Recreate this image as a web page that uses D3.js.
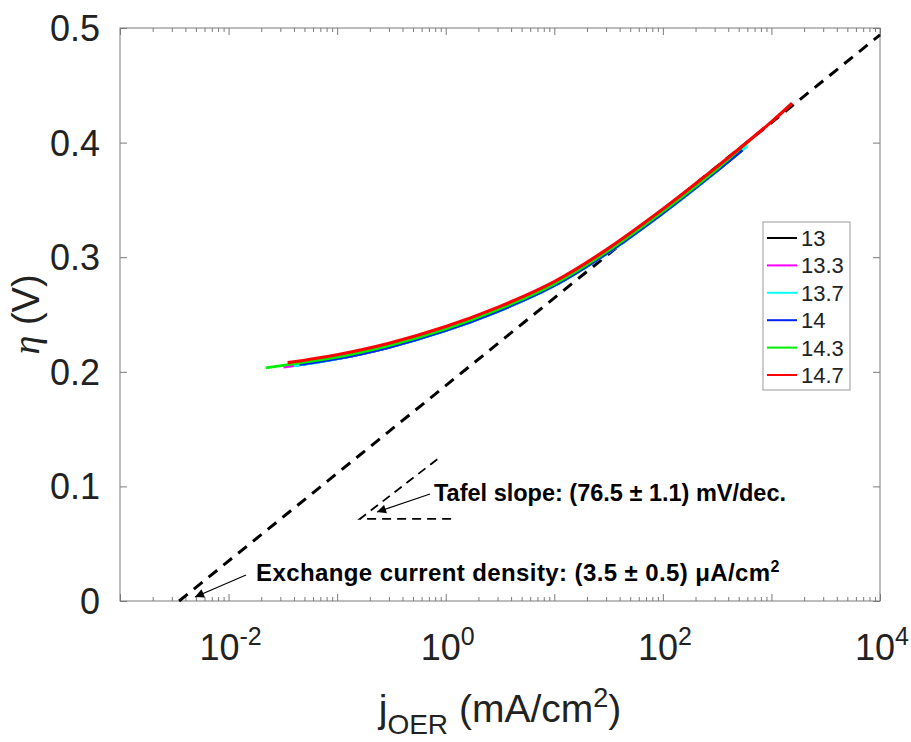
<!DOCTYPE html>
<html>
<head>
<meta charset="utf-8">
<script src="https://cdn.jsdelivr.net/npm/d3@7"></script>
<style>
  body { margin: 0; background: #fff; }
  text { font-family: "Liberation Sans", Arial, Helvetica, sans-serif; }
</style>
</head>
<body>
<div id="chart"></div>
<script>
// series names (pH) and colours
var seriesNames = ["13", "13.3", "13.7", "14", "14.3", "14.7"];
var seriesColors = ["#000000", "#ff00ff", "#00ffff", "#0022ee", "#00ee00", "#ff0000"];

// current density (mA/cm2) and overpotential (V)
var j13 = [0.04, 0.1, 0.3, 1, 3, 10, 30, 100, 300, 450];
var eta13 = [0.2054, 0.2114, 0.2214, 0.236, 0.2527, 0.2752, 0.3029, 0.3385, 0.3738, 0.3875];
var j133 = [0.032, 0.1, 0.3, 1, 3, 10, 30, 100, 300, 500];
var eta133 = [0.204, 0.2114, 0.2214, 0.236, 0.2527, 0.2752, 0.3029, 0.3385, 0.3738, 0.391];
var j137 = [0.04, 0.1, 0.3, 1, 3, 10, 30, 100, 300, 600];
var eta137 = [0.2052, 0.2112, 0.2212, 0.2358, 0.2525, 0.275, 0.3027, 0.3383, 0.3736, 0.397];
var j14 = [0.045, 0.1, 0.3, 1, 3, 10, 30, 100, 300, 540];
var eta14 = [0.2062, 0.2114, 0.2214, 0.236, 0.2527, 0.2752, 0.3029, 0.3385, 0.3738, 0.3935];
var j143 = [0.022, 0.05, 0.1, 0.3, 1, 3, 10, 30, 100, 300, 740];
var eta143 = [0.2035, 0.2084, 0.2129, 0.2229, 0.2375, 0.2542, 0.2767, 0.3044, 0.340, 0.3753, 0.408];
var j147 = [0.035, 0.1, 0.3, 1, 3, 10, 30, 100, 300, 1000, 1550];
var eta147 = [0.208, 0.2149, 0.2249, 0.2395, 0.2562, 0.2787, 0.3064, 0.342, 0.3773, 0.4181, 0.4343];

// Tafel fit line and slope triangle
var tafelJ = [0.0035, 10000];
var tafelEta = [0, 0.494];
var triJ = [0.837, 0.162, 1.19];
var triEta = [0.1237, 0.0716, 0.0716];

// axis ticks
var xMajor = [1e-3, 1e-2, 1e-1, 1, 10, 100, 1000, 10000];
var xLabelExp = [-2, 0, 2, 4];
var yTicks = [0, 0.1, 0.2, 0.3, 0.4, 0.5];

var allJ = [j13, j133, j137, j14, j143, j147];
var allEta = [eta13, eta133, eta137, eta14, eta143, eta147];

var width = 911, height = 742;
var margin = { top: 28, right: 31, bottom: 141, left: 120 };

var svg = d3.select("#chart").append("svg")
    .attr("width", width)
    .attr("height", height);

var x = d3.scaleLog().domain([1e-3, 1e4]).range([margin.left, width - margin.right]);
var y = d3.scaleLinear().domain([0, 0.5]).range([height - margin.bottom, margin.top]);

var axisColor = "#7a7a7a";

// minor + major ticks for the log axis
var xTicks = [];
xMajor.forEach(function(m, i) {
    if (i === xMajor.length - 1) { xTicks.push(m); return; }
    for (var k = 1; k <= 9; k++) xTicks.push(m * k);
});
function isMajor(v) {
    var l = Math.log10(v);
    return Math.abs(l - Math.round(l)) < 1e-9;
}

function styleAxis(g) {
    g.select(".domain").remove();
    g.selectAll("line").attr("stroke", axisColor).attr("stroke-width", 1);
}

svg.append("g")
    .attr("transform", "translate(0," + y(0) + ")")
    .call(d3.axisBottom(x).tickValues(xTicks).tickSizeInner(-7).tickSizeOuter(0).tickFormat(""))
    .call(styleAxis)
    .selectAll(".tick line").attr("y2", function(d) { return isMajor(d) ? -7 : -4; });

svg.append("g")
    .attr("transform", "translate(0," + y(0.5) + ")")
    .call(d3.axisTop(x).tickValues(xTicks).tickSizeInner(-7).tickSizeOuter(0).tickFormat(""))
    .call(styleAxis)
    .selectAll(".tick line").attr("y2", function(d) { return isMajor(d) ? 7 : 4; });

svg.append("g")
    .attr("transform", "translate(" + x(1e-3) + ",0)")
    .call(d3.axisLeft(y).tickValues(yTicks).tickSizeInner(-7).tickSizeOuter(0).tickFormat(""))
    .call(styleAxis);

svg.append("g")
    .attr("transform", "translate(" + x(1e4) + ",0)")
    .call(d3.axisRight(y).tickValues(yTicks).tickSizeInner(-7).tickSizeOuter(0).tickFormat(""))
    .call(styleAxis);

svg.append("rect")
    .attr("x", x(1e-3)).attr("y", y(0.5))
    .attr("width", x(1e4) - x(1e-3)).attr("height", y(0) - y(0.5))
    .attr("fill", "none").attr("stroke", axisColor).attr("stroke-width", 1);

// tick labels
svg.selectAll(".ylab").data(yTicks).enter().append("text")
    .attr("class", "ylab")
    .attr("x", x(1e-3) - 20)
    .attr("y", function(d) { return y(d); })
    .attr("dy", "0.36em")
    .attr("text-anchor", "end")
    .attr("font-size", 36)
    .attr("fill", "#222")
    .text(function(d) { return d === 0 ? "0" : d3.format(".1f")(d); });

var xl = svg.selectAll(".xlab").data(xLabelExp).enter().append("text")
    .attr("class", "xlab")
    .attr("x", function(d) { return x(Math.pow(10, d)) + 2; })
    .attr("y", 660)
    .attr("text-anchor", "middle")
    .attr("font-size", 36)
    .attr("fill", "#222");
xl.append("tspan").text("10");
xl.append("tspan").attr("font-size", 25).attr("dy", -15).text(function(d) { return d; });

// axis titles
var xt = svg.append("text")
    .attr("x", (x(1e-3) + x(1e4)) / 2)
    .attr("y", 722)
    .attr("text-anchor", "middle")
    .attr("font-size", 39)
    .attr("fill", "#222");
xt.append("tspan").text("j");
xt.append("tspan").attr("font-size", 28).attr("dy", 12).text("OER");
xt.append("tspan").attr("dy", -12).text(" (mA/cm");
xt.append("tspan").attr("font-size", 27).attr("dy", -15).text("2");
xt.append("tspan").attr("dy", 15).text(")");

var yt = svg.append("text")
    .attr("transform", "translate(39," + ((y(0) + y(0.5)) / 2) + ") rotate(-90)")
    .attr("text-anchor", "middle")
    .attr("font-size", 38)
    .attr("fill", "#222");
yt.append("tspan").attr("font-family", "'Liberation Serif', 'DejaVu Serif', serif")
    .attr("font-style", "italic").text("η");
yt.append("tspan").text(" (V)");

// Tafel fit
var lineGen = d3.line()
    .x(function(d) { return x(d[0]); })
    .y(function(d) { return y(d[1]); });

svg.append("path")
    .attr("d", lineGen(d3.zip(tafelJ, tafelEta)))
    .attr("fill", "none")
    .attr("stroke", "#000")
    .attr("stroke-width", 3)
    .attr("stroke-dasharray", "11,8");

svg.append("path")
    .attr("d", lineGen(d3.zip(triJ, triEta)))
    .attr("fill", "none")
    .attr("stroke", "#000")
    .attr("stroke-width", 1.8)
    .attr("stroke-dasharray", "9,6");

// data curves
var curveGen = d3.line()
    .x(function(d) { return x(d[0]); })
    .y(function(d) { return y(d[1]); })
    .curve(d3.curveCatmullRom.alpha(0.5));

seriesNames.forEach(function(name, i) {
    svg.append("path")
        .attr("d", curveGen(d3.zip(allJ[i], allEta[i])))
        .attr("fill", "none")
        .attr("stroke", seriesColors[i])
        .attr("stroke-width", i === 5 ? 3.2 : 2.8)
        .attr("stroke-linecap", "butt");
});

// annotations with arrows
svg.append("defs").append("marker")
    .attr("id", "arrow")
    .attr("viewBox", "0 0 10 10")
    .attr("refX", 10).attr("refY", 5)
    .attr("markerWidth", 11).attr("markerHeight", 9)
    .attr("markerUnits", "userSpaceOnUse")
    .attr("orient", "auto")
    .append("path").attr("d", "M0,0 L10,5 L0,10 z").attr("fill", "#000");

svg.append("line")
    .attr("x1", 430).attr("y1", 494).attr("x2", 377).attr("y2", 512)
    .attr("stroke", "#000").attr("stroke-width", 1.2)
    .attr("marker-end", "url(#arrow)");
svg.append("text")
    .attr("x", 434).attr("y", 501)
    .attr("font-size", 23.5).attr("font-weight", "bold")
    .text("Tafel slope: (76.5 ± 1.1) mV/dec.");

svg.append("line")
    .attr("x1", 246).attr("y1", 575).attr("x2", 195).attr("y2", 597)
    .attr("stroke", "#000").attr("stroke-width", 1.2)
    .attr("marker-end", "url(#arrow)");
var ex = svg.append("text")
    .attr("x", 256).attr("y", 581)
    .attr("font-size", 24).attr("font-weight", "bold")
    .attr("letter-spacing", 0.4);
ex.append("tspan").text("Exchange current density: (3.5 ± 0.5) μA/cm");
ex.append("tspan").attr("font-size", 16).attr("dy", -9).text("2");

// legend
var lg = svg.append("g");
lg.append("rect")
    .attr("x", 763).attr("y", 222).attr("width", 87).attr("height", 168)
    .attr("fill", "#fff").attr("stroke", "#999").attr("stroke-width", 1);
seriesNames.forEach(function(name, i) {
    var yy = 238 + i * 27.4;
    lg.append("line")
        .attr("x1", 767).attr("x2", 797).attr("y1", yy).attr("y2", yy)
        .attr("stroke", seriesColors[i]).attr("stroke-width", 2);
    lg.append("text")
        .attr("x", 801).attr("y", yy).attr("dy", "0.36em")
        .attr("font-size", 22).attr("fill", "#222")
        .text(name);
});
</script>
</body>
</html>
